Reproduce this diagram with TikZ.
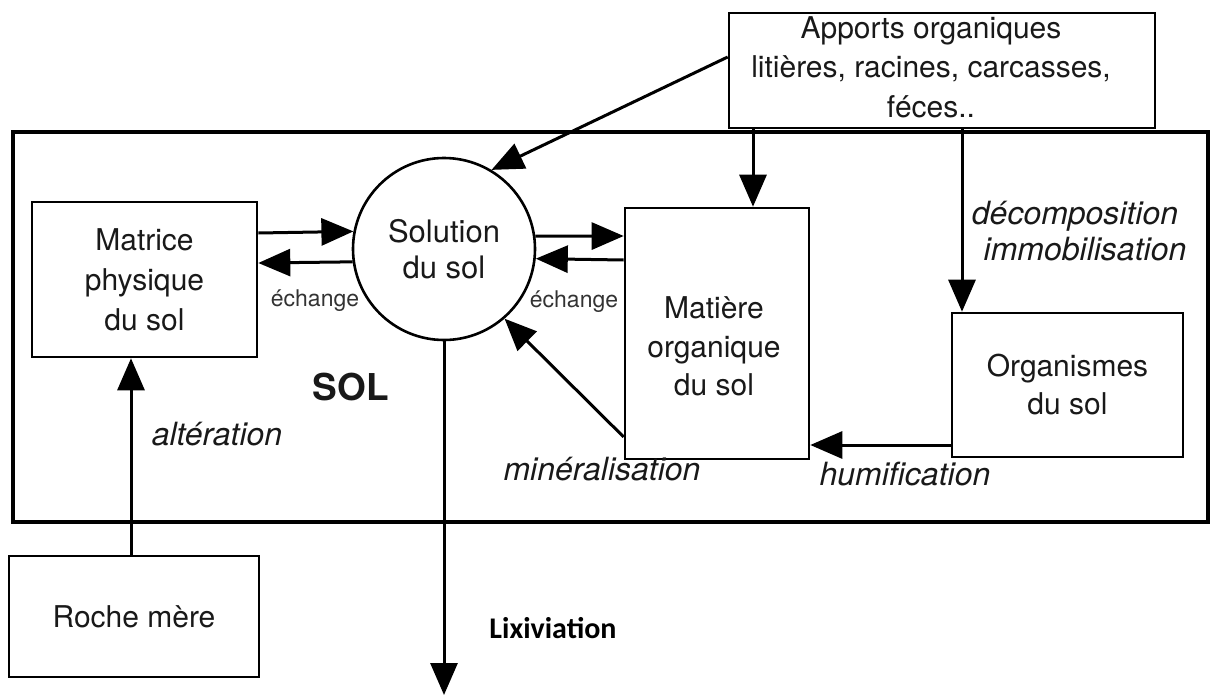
\documentclass[tikz,border=0pt]{standalone}
\usepackage{fontspec}
\setmainfont{TeX Gyre Heros}
\newfontfamily\calibrifont{Carlito}
\usetikzlibrary{arrows.meta}
\begin{document}
\begin{tikzpicture}[x=1pt,y=-1pt,
  box/.style={draw, line width=2.6pt, inner sep=0pt},
  flow/.style={line width=3pt, -{Triangle[length=32pt,width=27pt]}},
  boxtext/.style={font=\fontsize{30}{40}\selectfont, align=center, text=black!90},
  proc/.style={font=\fontsize{32}{38}\selectfont\itshape, text=black!90},
  small/.style={font=\fontsize{23}{28}\selectfont, text=black!80}
]
\useasboundingbox (0,0) rectangle (1211,696);

% the soil compartment
\node[draw, line width=4.5pt, minimum width=1195pt, minimum height=390pt, inner sep=0pt] (soil) at (610.5,327) {};

% boxes
\node[box, minimum width=426pt, minimum height=115pt] (app) at (942,70.5) {};
\node[boxtext, font=\fontsize{30}{39.5}\selectfont] (apptxt) at (931,67)
  {Apports organiques\\litières, racines, carcasses,\hspace*{38pt}\\féces..};

\node[box, boxtext, minimum width=225pt, minimum height=155pt] (mat) at (144.5,279.5)
  {Matrice\\physique\\du sol};

\node[draw, circle, line width=2.6pt, minimum size=182pt, inner sep=0pt,
      boxtext, font=\fontsize{31}{36}\selectfont] (sol) at (444,249) {Solution\\du sol};

\node[box, minimum width=184pt, minimum height=251pt] (mo) at (717,333.5) {};
\node[boxtext, font=\fontsize{30}{38.5}\selectfont] (motxt) at (714,346.5)
  {Matière\\organique\\du sol};

\node[box, boxtext, minimum width=231pt, minimum height=144pt,
      font=\fontsize{30}{38}\selectfont] (org) at (1067.5,385) {Organismes\\du sol};

\node[box, boxtext, minimum width=250pt, minimum height=121pt] (roche) at (134,616.5) {Roche mère};

% labels
\node[small, anchor=mid] (ech1) at (315,304) {échange};
\node[small, anchor=mid] (ech2) at (574,305) {échange};
\node[proc, anchor=mid] (dec) at (1075,222) {décomposition};
\node[proc, anchor=mid] (imm) at (1085,258) {immobilisation};
\node[proc, anchor=mid] (hum) at (905,483) {humification};
\node[proc, anchor=mid] (min) at (602,478) {minéralisation};
\node[proc, anchor=mid] (alt) at (217,443) {altération};
\node[font=\fontsize{37}{40}\selectfont\bfseries, text=black!90] (soltag) at (351,387) {SOL};
\node[font=\calibrifont\bfseries\fontsize{30}{36}\selectfont] (lix) at (553,628) {Lixiviation};

% exchanges with the soil solution
\draw[flow] ([yshift=46.5pt]mat.east) -- (sol.169.9);
\draw[flow] (sol.188.9) -- ([yshift=16.5pt]mat.east);
\draw[flow] (sol.8.2) -- ([yshift=97.5pt]mo.west);
\draw[flow] ([yshift=73.5pt]mo.west) -- (sol.-6.9);

% fluxes
\draw[flow] ([yshift=-103.5pt]mo.west) -- (sol.-49);
\draw[flow] ([yshift=13.5pt]app.west) -- (sol.59);
\draw[flow] ([xshift=-189pt]app.south) -- ([xshift=36pt]mo.north);
\draw[flow] ([xshift=20pt]app.south) -- ([xshift=-105.5pt]org.north);
\draw[flow] ([yshift=-60pt]org.west) -- ([yshift=-111.5pt]mo.east);
\draw[flow] ([xshift=-3pt]roche.north) -- ([xshift=-13.5pt]mat.south);
\coordinate (out) at (444,695);
\draw[flow] (sol.south) -- (out);
\end{tikzpicture}
\end{document}
